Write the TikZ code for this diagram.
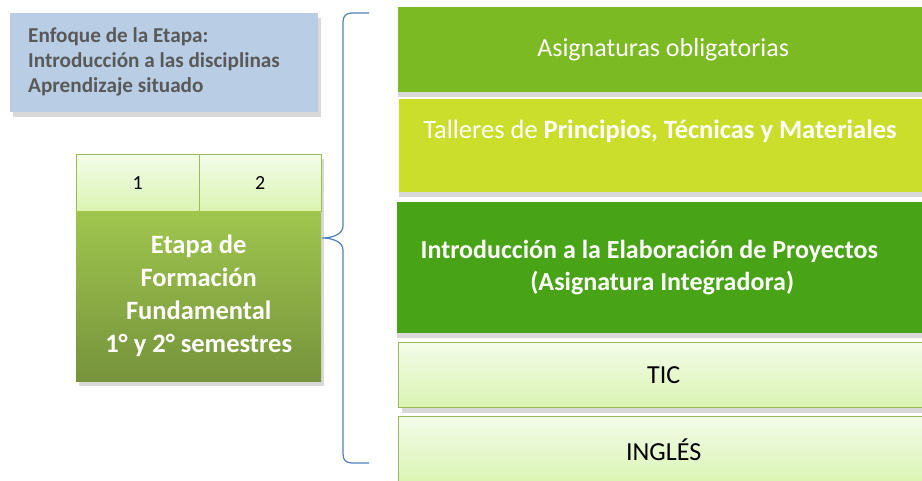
\documentclass[tikz,border=0pt]{standalone}
\usepackage{fontspec}
\setmainfont{Carlito}
\usetikzlibrary{shadows}

\definecolor{enfoqueblue}{HTML}{B9CDE5}
\definecolor{enfoquetext}{HTML}{595959}
\definecolor{oblgreen}{HTML}{7CBA23}
\definecolor{tallgreen}{HTML}{CADE2B}
\definecolor{intgreen}{HTML}{49A317}
\definecolor{etapatop}{HTML}{A0C64E}
\definecolor{etapabot}{HTML}{76933C}
\definecolor{celltop}{HTML}{F3FCE9}
\definecolor{cellbot}{HTML}{DAF4B2}
\definecolor{cellline}{HTML}{9BBB59}
\definecolor{bracecol}{HTML}{4F81BD}

\begin{document}
\begin{tikzpicture}[x=1pt, y=-1pt,
        box/.style = {anchor=north west, inner sep=0pt, align=center,
            general shadow={fill=black!15, shadow xshift=3pt, shadow yshift=-5pt}},
        lightbox/.style = {box, draw=cellline, line width=1.3pt,
            top color=celltop, bottom color=cellbot,
            font=\fontsize{26}{31}\selectfont},
        cell/.style = {box, draw=cellline, line width=0.8pt,
            minimum width=122.5pt, minimum height=57pt,
            top color=celltop, bottom color=cellbot,
            font=\fontsize{20}{24}\selectfont},
        greenbox/.style = {box, minimum width=530pt, text=white,
            general shadow={fill=black!15, shadow yshift=-5pt}}]
    \useasboundingbox (0,0) rectangle (922,480);

    % enfoque
    \node[box, fill=enfoqueblue, minimum width=308pt, minimum height=99pt] (enfoque) at (10,13) {};
    \node[anchor=west, align=left, inner sep=0pt, text=enfoquetext,
        font=\fontsize{21.2}{25}\selectfont\bfseries] (enfoquetxt) at (28,62)
        {Enfoque de la Etapa:\\Introducción a las disciplinas\\Aprendizaje situado};

    % etapa
    \node[cell] (sem1) at (76,154) {1};
    \node[cell] (sem2) at (198.5,154) {2};
    \node[box, minimum width=245pt, minimum height=170pt,
        top color=etapatop, bottom color=etapabot,
        text=white, font=\fontsize{26.5}{33}\selectfont\bfseries] (etapa) at (76,211)
        {Etapa de\\Formación\\Fundamental\\1° y 2° semestres};

    % llave
    \coordinate (llavetop) at (369,13);
    \coordinate (llavebot) at (369,463);
    \draw[bracecol, line width=1.2pt] (llavetop) -- (352,13)
        .. controls (346,13) and (343,16) .. (343,22) -- (343,226)
        .. controls (343,234) and (333,238) .. (322,238)
        .. controls (333,238) and (343,242) .. (343,250) -- (343,454)
        .. controls (343,460) and (346,463) .. (352,463) -- (llavebot);

    % asignaturas
    \node[greenbox, fill=oblgreen, minimum height=85pt,
        font=\fontsize{26}{31}\selectfont] (oblig) at (398,7) {Asignaturas obligatorias};
    \node[greenbox, fill=tallgreen, minimum height=93pt] (talleres) at (399,99) {};
    \node[text=white, font=\fontsize{26.5}{30}\selectfont] (tallerestxt) at (660,131)
        {Talleres de \textbf{Principios, Técnicas y Materiales}};
    \node[greenbox, fill=intgreen, minimum height=131pt,
        font=\fontsize{26}{32}\selectfont\bfseries] (integ) at (397,202)
        {\hspace*{-26pt}Introducción a la Elaboración de Proyectos\\(Asignatura Integradora)};
    \node[lightbox, minimum width=530pt, minimum height=65pt] (tic) at (398,342) {TIC};
    \node[lightbox, minimum width=530pt, minimum height=66pt] (ingles) at (398,416) {INGLÉS};
\end{tikzpicture}
\end{document}
